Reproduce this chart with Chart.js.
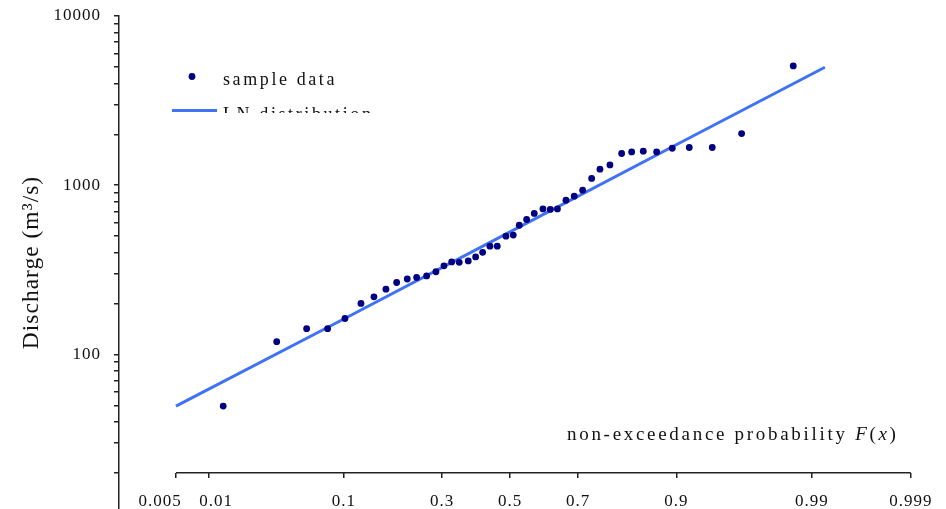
<!DOCTYPE html>
<html>
<head>
<meta charset="utf-8">
<script src="https://cdn.jsdelivr.net/npm/chart.js@4"></script>
<style>
  html, body { margin: 0; padding: 0; background: #fff; overflow: hidden; }
  #wrap { position: relative; width: 946px; height: 509px; }
</style>
</head>
<body>
<div id="wrap"><canvas id="probChart"></canvas></div>
<script>
// ===== データ =====
const probTicks = [0.005, 0.01, 0.1, 0.3, 0.5, 0.7, 0.9, 0.99, 0.999];
const probLabels = ["0.005      ", "   0.01", "0.1", "0.3", "0.5", "0.7", "0.9", "0.99", "0.999"];
const qTicks = [20, 30, 40, 50, 60, 70, 80, 90, 100, 200, 300, 400, 500, 600, 700, 800, 900,
  1000, 2000, 3000, 4000, 5000, 6000, 7000, 8000, 9000, 10000];
const qLabeled = [100, 1000, 10000];
const xAxisAt = 20; // x軸が交わる流量

// sample data: 非超過確率 F(x) と流量 (m3/s)
const sampleF = [0.0135, 0.0360, 0.0584, 0.0798, 0.1015, 0.1252, 0.1470, 0.1693, 0.1910, 0.2140,
  0.2357, 0.2601, 0.2839, 0.3052, 0.3263, 0.3476, 0.3736, 0.3954, 0.4163, 0.4384,
  0.4607, 0.4874, 0.5099, 0.5283, 0.5509, 0.5740, 0.6001, 0.6217, 0.6426, 0.6668,
  0.6897, 0.7122, 0.7354, 0.7559, 0.7794, 0.8052, 0.8258, 0.8478, 0.8708, 0.8945,
  0.9165, 0.9405, 0.9629, 0.9855];
const sampleQ = [49.5, 119, 142, 142, 163, 200, 219, 243, 266, 279,
  285, 291, 308, 334, 352, 350, 357, 377, 401, 436,
  436, 500, 507, 580, 627, 681, 724, 719, 724, 815,
  861, 934, 1096, 1243, 1318, 1539, 1573, 1588, 1573, 1654,
  1670, 1670, 2020, 5066];

// LN distribution
const lnF = [0.005, 0.1, 0.5, 0.9, 0.9924];
const lnQ = [49.5, 162, 530, 1735, 4980];

// ===== 正規確率紙の変換 (Acklam) =====
function normInv(p) {
  const a = [-3.969683028665376e+01, 2.209460984245205e+02, -2.759285104469687e+02, 1.383577518672690e+02, -3.066479806614716e+01, 2.506628277459239e+00];
  const b = [-5.447609879822406e+01, 1.615858368580409e+02, -1.556989798598866e+02, 6.680131188771972e+01, -1.328068155288572e+01];
  const c = [-7.784894002430293e-03, -3.223964580411365e-01, -2.400758277161838e+00, -2.549732539343734e+00, 4.374664141464968e+00, 2.938163982698783e+00];
  const d = [7.784695709041462e-03, 3.224671290700398e-01, 2.445134137142996e+00, 3.754408661907416e+00];
  const pl = 0.02425;
  let q, r;
  if (p < pl) {
    q = Math.sqrt(-2 * Math.log(p));
    return (((((c[0]*q+c[1])*q+c[2])*q+c[3])*q+c[4])*q+c[5]) / ((((d[0]*q+d[1])*q+d[2])*q+d[3])*q+1);
  }
  if (p > 1 - pl) {
    q = Math.sqrt(-2 * Math.log(1 - p));
    return -(((((c[0]*q+c[1])*q+c[2])*q+c[3])*q+c[4])*q+c[5]) / ((((d[0]*q+d[1])*q+d[2])*q+d[3])*q+1);
  }
  q = p - 0.5; r = q * q;
  return (((((a[0]*r+a[1])*r+a[2])*r+a[3])*r+a[4])*r+a[5])*q / (((((b[0]*r+b[1])*r+b[2])*r+b[3])*r+b[4])*r+1);
}

const SERIF = "'Liberation Serif', 'Times New Roman', serif";
const toPts = (F, Q) => F.map((p, i) => ({ x: normInv(p), y: Q[i] }));

// 凡例とx軸タイトル（プロット内に描く）
const overlay = {
  id: "overlay",
  beforeUpdate(chart) { chart.ctx.letterSpacing = "1px"; },
  beforeDraw(chart) { chart.ctx.letterSpacing = "1px"; },
  afterDraw(chart) {
    const ctx = chart.ctx;
    ctx.save();
    ctx.fillStyle = "#111";
    ctx.textBaseline = "alphabetic";
    ctx.textAlign = "left";

    // sample data
    ctx.fillStyle = "#000080";
    ctx.beginPath();
    ctx.arc(192, 76.5, 3.4, 0, Math.PI * 2);
    ctx.fill();
    ctx.fillStyle = "#111";
    ctx.letterSpacing = "2.6px";
    ctx.font = "18px " + SERIF;
    ctx.fillText("sample data", 223, 85);

    // LN distribution（下半分が切れている）
    ctx.save();
    ctx.beginPath();
    ctx.rect(0, 0, 946, 113);
    ctx.clip();
    ctx.strokeStyle = "#3f72f5";
    ctx.lineWidth = 3;
    ctx.beginPath();
    ctx.moveTo(172, 110.5);
    ctx.lineTo(217, 110.5);
    ctx.stroke();
    ctx.fillText("LN distribution", 223, 120);
    ctx.restore();

    // non-exceedance probability F(x)
    ctx.letterSpacing = "2.7px";
    let x = 567;
    const parts = [["non-exceedance probability ", ""], ["F", "italic "], ["(", ""], ["x", "italic "], [")", ""]];
    parts.forEach(([t, st]) => {
      ctx.font = st + "19px " + SERIF;
      ctx.fillText(t, x, 440);
      x += ctx.measureText(t).width;
    });
    ctx.restore();
  }
};

const noPad = s => { s.paddingLeft = 0; s.paddingRight = 0; s.paddingTop = 0; s.paddingBottom = 0; };

const ctx = document.getElementById("probChart");
new Chart(ctx, {
  type: "scatter",
  data: {
    datasets: [
      {
        label: "sample data",
        data: toPts(sampleF, sampleQ),
        backgroundColor: "#000080",
        borderWidth: 0,
        pointRadius: 3.4,
        pointHoverRadius: 3.4
      },
      {
        label: "LN distribution",
        data: toPts(lnF, lnQ),
        showLine: true,
        borderColor: "#3f72f5",
        borderWidth: 3,
        pointRadius: 0,
        tension: 0
      },
      {
        label: "axis",
        data: [
          { x: normInv(probTicks[0]), y: xAxisAt },
          { x: normInv(probTicks[probTicks.length - 1]), y: xAxisAt }
        ],
        showLine: true,
        borderColor: "#222",
        borderWidth: 1.5,
        pointRadius: 0
      }
    ]
  },
  options: {
    responsive: true,
    maintainAspectRatio: false,
    animation: false,
    layout: { autoPadding: false, padding: { top: 16, right: 6, bottom: 0, left: 0 } },
    plugins: {
      legend: { display: false },
      tooltip: { enabled: false }
    },
    scales: {
      x: {
        type: "linear",
        position: { y: xAxisAt },
        min: -3.015,
        max: 3.315,
        border: { display: false },
        grid: { drawOnChartArea: false, drawTicks: true, tickLength: 5, color: "#222", lineWidth: 1.5 },
        ticks: {
          autoSkip: false,
          maxRotation: 0,
          padding: 14,
          color: "#111",
          font: { family: SERIF, size: 17 },
          callback: (v, i) => probLabels[i]
        },
        afterBuildTicks: s => { s.ticks = probTicks.map(p => ({ value: normInv(p) })); },
        afterFit: noPad
      },
      y: {
        type: "logarithmic",
        position: "left",
        min: 12.2,
        max: 10000,
        border: { display: true, color: "#222", width: 1.5 },
        grid: { drawOnChartArea: false, drawTicks: true, tickLength: 5, color: "#222", lineWidth: 1.5 },
        ticks: {
          autoSkip: false,
          padding: 13,
          color: "#111",
          font: { family: SERIF, size: 17 },
          callback: v => (qLabeled.includes(v) ? String(v) : "")
        },
        title: {
          display: true,
          text: "Discharge (m³/s)",
          color: "#111",
          font: { family: SERIF, size: 23.5 },
          padding: { top: 18, bottom: 0 }
        },
        afterBuildTicks: s => { s.ticks = qTicks.map(v => ({ value: v })); },
        afterFit: s => { noPad(s); s.width = 119; }
      }
    }
  },
  plugins: [overlay]
});
</script>
</body>
</html>
